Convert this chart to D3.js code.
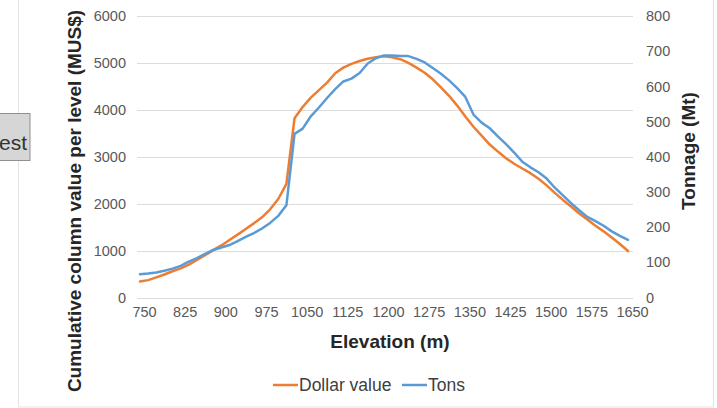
<!DOCTYPE html>
<html>
<head>
<meta charset="utf-8">
<script src="https://cdn.jsdelivr.net/npm/d3@7"></script>
<style>
  html, body { margin: 0; padding: 0; background: #fff; }
  svg { display: block; font-family: "Liberation Sans", Arial, sans-serif; }
</style>
</head>
<body>
<svg id="chart" width="717" height="408"></svg>
<script>
// Elevation levels (m), one every 15 m
const elevations = d3.range(750, 1651, 15);

// Cumulative column value per level (MUS$)
const dollarValue = [
  340, 370, 430, 490, 560, 620, 700, 800, 900, 1010,
  1110, 1225, 1340, 1460, 1580, 1710, 1880, 2100, 2420, 3820,
  4060, 4260, 4420, 4580, 4780, 4900, 4980, 5040, 5090, 5120,
  5140, 5120, 5080, 5000, 4900, 4790, 4650, 4480, 4300, 4090,
  3860, 3640, 3450, 3260, 3110, 2970, 2850, 2750, 2650, 2530,
  2390, 2230, 2080, 1940, 1790, 1660, 1530, 1410, 1280, 1140,
  990
];

// Tonnage per level (Mt)
const tons = [
  66, 68, 71, 76, 82, 90, 102, 112, 124, 135,
  142, 149, 160, 172, 183, 196, 212, 232, 262, 465,
  480, 515, 540, 567, 592, 614, 622, 638, 665, 680,
  688, 688, 686, 686, 678, 668, 652, 636, 617, 595,
  570, 520, 497, 481, 458, 436, 412, 386, 370, 356,
  338, 312, 290, 268, 248, 229, 217, 204, 188, 175,
  164
];

const xTicks = d3.range(750, 1651, 75);
const leftTicks = [0, 1000, 2000, 3000, 4000, 5000, 6000];
const rightTicks = [0, 100, 200, 300, 400, 500, 600, 700, 800];

const seriesNames = ["Dollar value", "Tons"];
const seriesColors = ["#ED7D31", "#5B9BD5"];

const svg = d3.select("#chart");

// Outer frame of the chart area
svg.append("rect")
  .attr("x", 18.5).attr("y", -1)
  .attr("width", 695).attr("height", 408)
  .attr("fill", "none").attr("stroke", "#e3e3e3");

// Partial button at the left edge
svg.append("rect")
  .attr("x", -2).attr("y", 113.5)
  .attr("width", 32).attr("height", 47)
  .attr("fill", "#d6d6d6").attr("stroke", "#8f8f8f");
svg.append("text")
  .attr("x", -1).attr("y", 150)
  .attr("font-size", 21).attr("fill", "#333")
  .text("est");

const plot = { left: 137, right: 633, top: 16, bottom: 297.5 };

const x = d3.scaleLinear().domain([750, 1650]).range([140, 628]);
const yL = d3.scaleLinear().domain([0, 6000]).range([plot.bottom, plot.top]);
const yR = d3.scaleLinear().domain([0, 800]).range([plot.bottom, plot.top]);

const tickFont = 14.5;

// Horizontal gridlines
svg.append("g")
  .selectAll("line")
  .data(leftTicks)
  .join("line")
  .attr("x1", plot.left).attr("x2", plot.right)
  .attr("y1", d => Math.round(yL(d)) + 0.5).attr("y2", d => Math.round(yL(d)) + 0.5)
  .attr("stroke", "#dcdcdc").attr("stroke-width", 1);

// Left axis
const leftAxis = svg.append("g")
  .attr("transform", "translate(126,0)")
  .call(d3.axisLeft(yL).tickValues(leftTicks).tickSize(0).tickPadding(0).tickFormat(d3.format("d")));
leftAxis.select(".domain").remove();
leftAxis.selectAll("text").attr("font-size", tickFont).attr("fill", "#595959")
  .attr("font-family", "Liberation Sans, Arial, sans-serif");

// Right axis
const rightAxis = svg.append("g")
  .attr("transform", "translate(646,0)")
  .call(d3.axisRight(yR).tickValues(rightTicks).tickSize(0).tickPadding(0).tickFormat(d3.format("d")));
rightAxis.select(".domain").remove();
rightAxis.selectAll("text").attr("font-size", tickFont).attr("fill", "#595959")
  .attr("font-family", "Liberation Sans, Arial, sans-serif");

// Bottom axis
const bottomAxis = svg.append("g")
  .attr("transform", `translate(0,${plot.bottom})`)
  .call(d3.axisBottom(x).tickValues(xTicks).tickSize(0).tickPadding(9).tickFormat(d3.format("d")));
bottomAxis.select(".domain").remove();
bottomAxis.selectAll("text").attr("font-size", tickFont).attr("fill", "#595959")
  .attr("dx", 4)
  .attr("font-family", "Liberation Sans, Arial, sans-serif");

// Axis titles
svg.append("text")
  .attr("transform", "translate(81,201) rotate(-90)")
  .attr("text-anchor", "middle")
  .attr("font-size", 19).attr("font-weight", "bold").attr("fill", "#262626")
  .text("Cumulative column value per level (MUS$)");

svg.append("text")
  .attr("transform", "translate(695,151) rotate(-90)")
  .attr("text-anchor", "middle")
  .attr("font-size", 19).attr("font-weight", "bold").attr("fill", "#262626")
  .text("Tonnage (Mt)");

svg.append("text")
  .attr("x", 390).attr("y", 348)
  .attr("text-anchor", "middle")
  .attr("font-size", 19).attr("font-weight", "bold").attr("fill", "#262626")
  .text("Elevation (m)");

// Series lines
const dollarLine = d3.line()
  .x((d, i) => x(elevations[i]))
  .y(d => yL(d));
const tonsLine = d3.line()
  .x((d, i) => x(elevations[i]))
  .y(d => yR(d));

svg.append("path")
  .datum(dollarValue)
  .attr("d", dollarLine)
  .attr("fill", "none").attr("stroke", seriesColors[0])
  .attr("stroke-width", 2.5).attr("stroke-linejoin", "round").attr("stroke-linecap", "round");

svg.append("path")
  .datum(tons)
  .attr("d", tonsLine)
  .attr("fill", "none").attr("stroke", seriesColors[1])
  .attr("stroke-width", 2.5).attr("stroke-linejoin", "round").attr("stroke-linecap", "round");

// Legend
const legendItems = [
  { name: seriesNames[0], color: seriesColors[0], x1: 273, x2: 298, tx: 299 },
  { name: seriesNames[1], color: seriesColors[1], x1: 402, x2: 427, tx: 428 }
];
const legend = svg.append("g");
legendItems.forEach(it => {
  legend.append("line")
    .attr("x1", it.x1).attr("x2", it.x2)
    .attr("y1", 385).attr("y2", 385)
    .attr("stroke", it.color).attr("stroke-width", 2.5);
  legend.append("text")
    .attr("x", it.tx).attr("y", 391)
    .attr("font-size", 17.5).attr("fill", "#404040")
    .text(it.name);
});
</script>
</body>
</html>
